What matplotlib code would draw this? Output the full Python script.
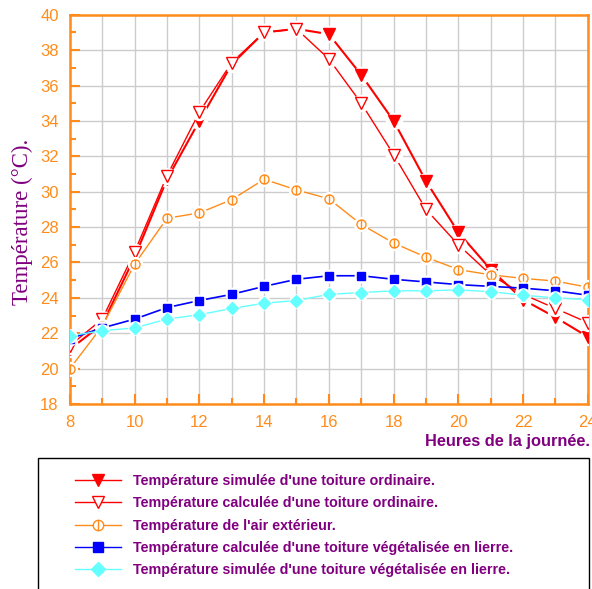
import matplotlib
matplotlib.use('Agg')
import matplotlib.pyplot as plt
from matplotlib import font_manager
from matplotlib.path import Path
from matplotlib.lines import Line2D
from matplotlib.patches import Rectangle

''' Data read off the chart '''
hours = [8, 9, 10, 11, 12, 13, 14, 15, 16, 17, 18, 19, 20, 21, 22, 23, 24]
simul_ordinaire = [21.1, 22.5, 26.3, 30.7, 34.0, 37.2, 39.0, 39.2, 38.9, 36.6, 34.0, 30.6, 27.7, 25.6, 23.9, 22.9, 21.8]
calc_ordinaire = [21.3, 22.8, 26.6, 30.9, 34.5, 37.3, 39.0, 39.2, 37.5, 35.0, 32.1, 29.0, 27.0, 25.3, 24.2, 23.4, 22.6]
air_exterieur = [20.0, 22.4, 25.9, 28.5, 28.8, 29.55, 30.7, 30.1, 29.6, 28.15, 27.1, 26.3, 25.6, 25.3, 25.1, 24.95, 24.6]
calc_vegetal = [21.7, 22.3, 22.8, 23.45, 23.85, 24.2, 24.65, 25.05, 25.25, 25.25, 25.05, 24.9, 24.75, 24.65, 24.55, 24.4, 24.15]
simul_vegetal = [21.85, 22.15, 22.3, 22.8, 23.05, 23.4, 23.7, 23.85, 24.2, 24.3, 24.4, 24.4, 24.45, 24.35, 24.15, 24.0, 23.9]

labels = ["Température simulée d'une toiture ordinaire.",
          "Température calculée d'une toiture ordinaire.",
          "Température de l'air extérieur.",
          "Température calculée d'une toiture végétalisée en lierre.",
          "Température simulée d'une toiture végétalisée en lierre."]

orange = '#FF8C1A'
purple = '#800080'

# narrow bold face if there is one, otherwise plain Liberation Sans bold
installed = {f.name for f in font_manager.fontManager.ttflist}
if 'Liberation Sans Narrow' in installed:
    text_font, leg_size, xl_size = 'Liberation Sans Narrow', 12.5, 13.5
else:
    text_font, leg_size, xl_size = 'Liberation Sans', 10.3, 11.8

# circle with a vertical bar (Origin style marker)
circle_bar = Path.make_compound_path(Path.unit_circle(), Path([[0, -1], [0, 1]]))

fig = plt.figure(figsize=(5.92, 5.89), dpi=100)
ax = fig.add_axes([0.118, 0.314, 0.875, 0.661])

series = [
    (simul_ordinaire, 'red', 'v', 'red', 1.5, 8),
    (calc_ordinaire, 'red', 'v', 'white', 1.0, 8),
    (air_exterieur, orange, circle_bar, 'white', 1.0, 6.5),
    (calc_vegetal, '#0000FF', 's', '#0000FF', 1.2, 5.5),
    (simul_vegetal, '#66FFFF', 'D', '#66FFFF', 1.0, 6),
]

handles = []
for i, (vals, col, mk, face, lw, ms) in enumerate(series):
    z = 3 + i * 3
    ax.plot(hours, vals, color=col, lw=lw, zorder=z)
    # white halo so the line stops short of each marker
    ax.plot(hours, vals, ls='none', marker='o', ms=ms + 3.5, color='white', zorder=z + 1)
    ax.plot(hours, vals, ls='none', marker=mk, ms=ms, mfc=face, mec=col, mew=1.0, zorder=z + 2)
    handles.append(Line2D([], [], color=col, lw=1.0, marker=mk, ms=ms + 1, mfc=face, mec=col))

ax.set_xlim(8, 24)
ax.set_ylim(18, 40)
ax.set_xticks(range(8, 25, 2))
ax.set_xticks(range(8, 25), minor=True)
ax.set_yticks(range(18, 41, 2))
ax.set_yticks(range(18, 41), minor=True)
ax.grid(True, which='both', axis='x', color='#CCCCCC', lw=1.0)
ax.grid(True, which='major', axis='y', color='#CCCCCC', lw=1.0)
ax.set_axisbelow(True)

for s in ax.spines.values():
    s.set_color(orange)
    s.set_linewidth(1.8)
ax.tick_params(which='both', direction='in', colors=orange, width=1.5, labelsize=12, pad=8)
ax.tick_params(which='major', length=7)
ax.tick_params(which='minor', length=4)
for lbl in ax.get_xticklabels() + ax.get_yticklabels():
    lbl.set_family(['Liberation Sans', 'DejaVu Sans'])

ax.set_ylabel('Température (°C).', family=['Liberation Serif', 'DejaVu Serif'],
              fontsize=16.5, color=purple)
ax.yaxis.set_label_coords(-0.071, 0.467)
fig.text(0.9966, 0.2496, 'Heures de la journée.', ha='right', va='center',
         family=text_font, fontsize=xl_size, fontweight='bold', color=purple)

# legend box drawn by hand, running off the bottom of the figure
fig.add_artist(Rectangle((38 / 592, -0.05), 0.93, 0.05 + 1 - 458 / 589, transform=fig.transFigure,
                         fill=False, edgecolor='black', lw=1.0))
leg = fig.legend(handles, labels, loc='upper left', bbox_to_anchor=(75 / 592, 0.195), frameon=False,
                 handlelength=3.2, handletextpad=0.85, labelspacing=0.58, borderpad=0,
                 borderaxespad=0, prop={'family': text_font, 'size': leg_size, 'weight': 'bold'},
                 labelcolor=purple)

fig.savefig('out.png', dpi=100)
